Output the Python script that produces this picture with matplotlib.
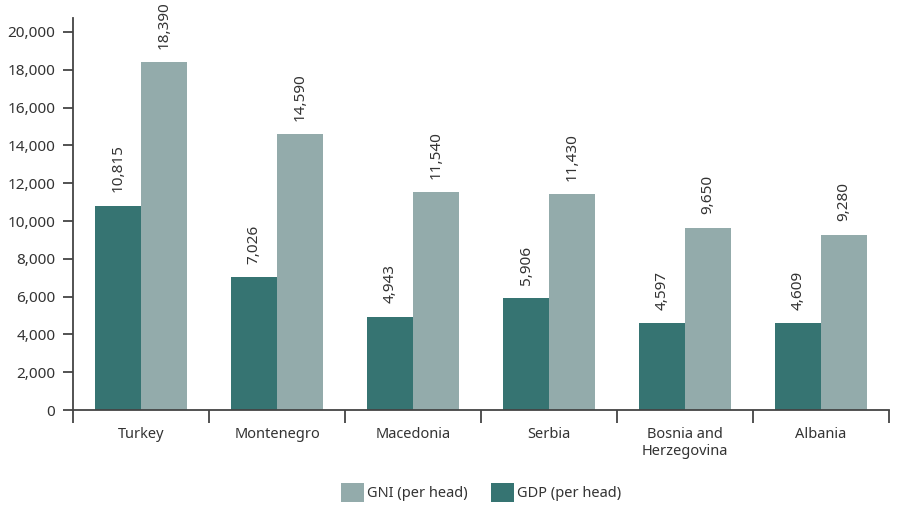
import numpy as np
import matplotlib.pyplot as plt
from matplotlib.ticker import FuncFormatter, FixedLocator

plt.rcParams['font.family'] = ['Noto Sans', 'DejaVu Sans']

# GDP und GNI pro Kopf
laender = ["Turkey", "Montenegro", "Macedonia", "Serbia", "Bosnia and\nHerzegovina", "Albania"]
gdp = [10815, 7026, 4943, 5906, 4597, 4609]
gni = [18390, 14590, 11540, 11430, 9650, 9280]

farbe_gdp = "#367472"
farbe_gni = "#93abab"
text = "#333333"

fig = plt.figure(figsize=(9.04, 5.16), dpi=100)
ax = fig.add_axes([0.0808, 0.2054, 0.9026, 0.7597])

x = np.arange(len(laender))
b = 0.335
bars_gdp = ax.bar(x - b/2, gdp, b, color=farbe_gdp, label="GDP (per head)")
bars_gni = ax.bar(x + b/2, gni, b, color=farbe_gni, label="GNI (per head)")

for rects, werte in [(bars_gdp, gdp), (bars_gni, gni)]:
    for r, v in zip(rects, werte):
        ax.annotate("{:,}".format(v), (r.get_x() + r.get_width()/2, v),
                    xytext=(0, 9.5), textcoords="offset points",
                    rotation=90, ha="center", va="bottom", fontsize=11, color=text)

ax.set_xlim(-0.5, len(laender) - 0.5)
ax.set_ylim(0, 20740)
ax.set_yticks(np.arange(0, 20001, 2000))
ax.yaxis.set_major_formatter(FuncFormatter(lambda v, p: "{:,}".format(int(v))))

ax.set_xticks(x)
ax.set_xticklabels(laender)
ax.xaxis.set_minor_locator(FixedLocator(np.arange(-0.5, len(laender), 1)))
ax.tick_params(axis="x", which="major", length=0, pad=12, labelsize=10.5, labelcolor=text)
ax.tick_params(axis="x", which="minor", length=9, width=1.3, color="#444444")
ax.tick_params(axis="y", length=7.2, width=1.3, color="#444444", labelsize=11, labelcolor=text, pad=5.5)

for s in ["top", "right"]:
    ax.spines[s].set_visible(False)
for s in ["left", "bottom"]:
    ax.spines[s].set_color("#444444")
    ax.spines[s].set_linewidth(1.3)

# Legende unter der Achse, mittig zur Achse
h, l = ax.get_legend_handles_labels()
ax.legend(h[::-1], l[::-1], loc="lower center", bbox_to_anchor=(0.532, 0.002),
          bbox_transform=fig.transFigure, ncol=2,
          frameon=False, fontsize=10.5, handlelength=1.6, handleheight=1.6,
          handletextpad=0.2, columnspacing=1.6, labelcolor=text)

fig.savefig("out.png", dpi=100)
